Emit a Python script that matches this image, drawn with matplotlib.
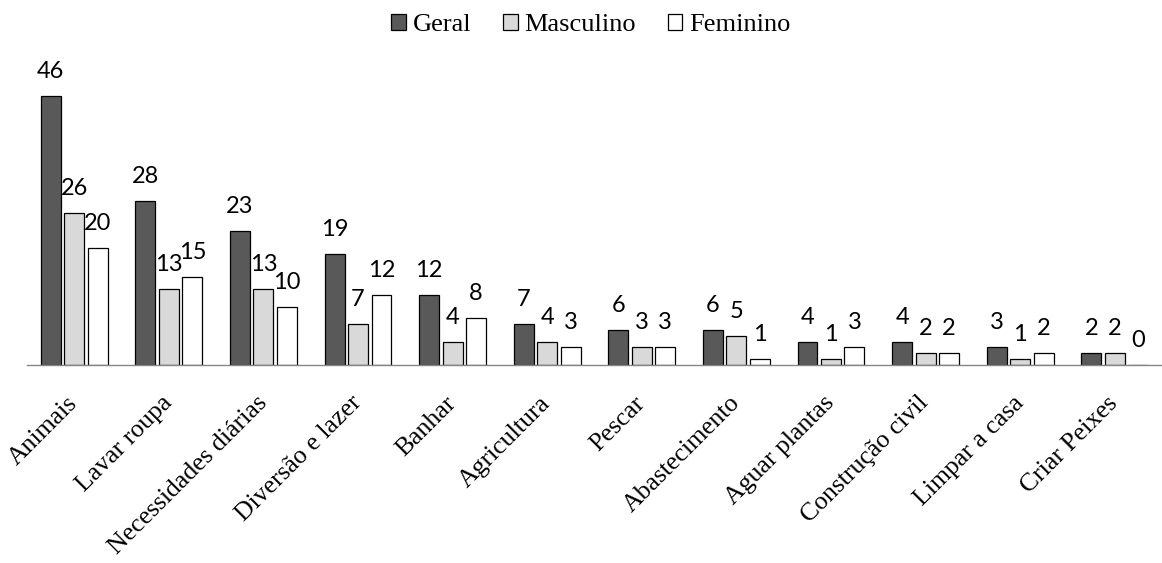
import matplotlib
matplotlib.use("Agg")
import matplotlib.pyplot as plt
from matplotlib.patches import Patch
import numpy as np

categories = ["Animais", "Lavar roupa", "Necessidades diárias", "Diversão e lazer",
              "Banhar", "Agricultura", "Pescar", "Abastecimento", "Aguar plantas",
              "Construção civil", "Limpar a casa", "Criar Peixes"]
geral = [46, 28, 23, 19, 12, 7, 6, 6, 4, 4, 3, 2]
masculino = [26, 13, 13, 7, 4, 4, 3, 5, 1, 2, 1, 2]
feminino = [20, 15, 10, 12, 8, 3, 3, 1, 3, 2, 2, 0]
series_names = ["Geral", "Masculino", "Feminino"]
colors = ["#595959", "#d9d9d9", "#ffffff"]

fig = plt.figure(figsize=(11.62, 5.63), dpi=100)
ax = fig.add_axes([27/1162, 198/563, 1 - 27/1162, 315/563])

x = np.arange(len(categories))
w = 0.211
sp = 0.248
for k, (vals, col) in enumerate(zip([geral, masculino, feminino], colors)):
    bars = ax.bar(x + (k - 1) * sp, vals, width=w, color=col, edgecolor="black",
                  linewidth=0.9, zorder=2)
    for b, v in zip(bars, vals):
        ax.annotate(str(v), (b.get_x() + b.get_width() / 2, v),
                    xytext=(0, 13), textcoords="offset points",
                    ha="center", va="baseline", fontsize=17,
                    family=["Lato", "DejaVu Sans"], color="black")

ax.set_xlim(-0.5, len(categories) - 0.5)
ax.set_ylim(0, 53.9)
for s in ["top", "right", "left"]:
    ax.spines[s].set_visible(False)
ax.spines["bottom"].set_color("#868686")
ax.spines["bottom"].set_linewidth(1.0)
ax.spines["bottom"].set_zorder(3)
ax.set_yticks([])
ax.set_xticks(x)
ax.set_xticklabels(categories, rotation=45, ha="right", va="center",
                   rotation_mode="anchor", fontsize=18.5,
                   family=["Liberation Serif", "DejaVu Serif"])
ax.tick_params(axis="x", length=0, pad=25)

handles = [Patch(facecolor=c, edgecolor="black", linewidth=0.9) for c in colors]
fig.legend(handles, series_names, loc="upper center", bbox_to_anchor=(0.5086, 1.017),
           ncol=3, frameon=False, handlelength=0.55, handleheight=0.55,
           handletextpad=0.27, columnspacing=1.2,
           prop={"family": ["Liberation Serif", "DejaVu Serif"], "size": 19})

fig.savefig("out.png", dpi=100)
